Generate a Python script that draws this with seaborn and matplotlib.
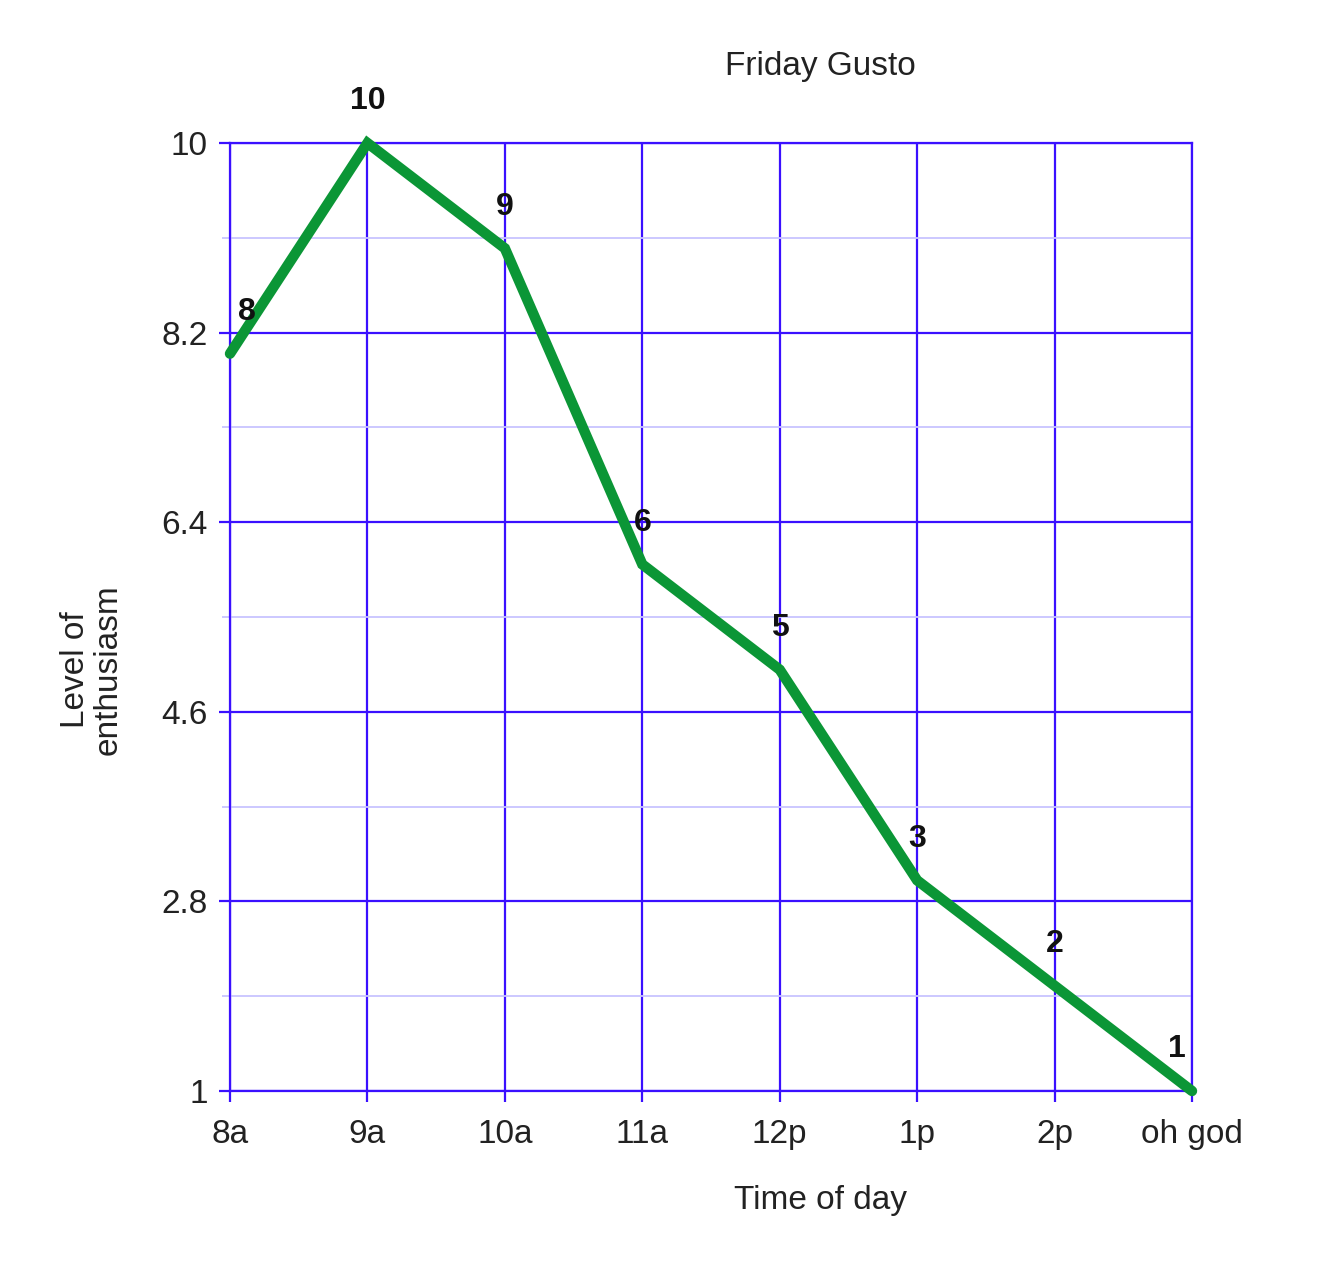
import pandas as pd
import seaborn as sns
import matplotlib.pyplot as plt

times = ["8a", "9a", "10a", "11a", "12p", "1p", "2p", "oh god"]
enthusiasm = [8, 10, 9, 6, 5, 3, 2, 1]
yticks = [1, 2.8, 4.6, 6.4, 8.2, 10]
yticks_minor = [1.9, 3.7, 5.5, 7.3, 9.1]

grid_blue = "#3a10ff"
minor_blue = "#c8c4ff"
green = "#0b9636"

df = pd.DataFrame({"Time": times, "Level": enthusiasm})

sns.set_style("white")
plt.rcParams["font.family"] = ["Liberation Sans", "DejaVu Sans"]

fig = plt.figure(figsize=(13.42, 12.62), dpi=100)
ax = fig.add_axes([230 / 1342, 1 - 1091 / 1262, 962 / 1342, 948 / 1262])

sns.lineplot(data=df, x="Time", y="Level", sort=False, color=green,
             linewidth=7.5, ax=ax, zorder=5, clip_on=False,
             solid_capstyle="round", solid_joinstyle="miter")

ax.set_xlim(0, len(times) - 1)
ax.set_ylim(1, 10)
ax.set_yticks(yticks)
ax.set_yticklabels(["1", "2.8", "4.6", "6.4", "8.2", "10"])
ax.set_yticks(yticks_minor, minor=True)
ax.set_xticks(range(len(times)))
ax.set_xticklabels(times)

ax.grid(True, which="major", color=grid_blue, linewidth=1.6)
ax.grid(True, which="minor", axis="y", color=minor_blue, linewidth=1.3)
ax.set_axisbelow(True)
ax.tick_params(which="major", length=8, width=1.6, color=grid_blue,
               labelsize=24, labelcolor="#222222", pad=8, left=True, bottom=True)
ax.tick_params(which="minor", axis="y", length=6, width=1.3, color=minor_blue, left=True)
ax.tick_params(axis="x", pad=12)
for s in ax.spines.values():
    s.set_color(grid_blue)
    s.set_linewidth(1.6)

ax.set_xlabel("")
ax.set_ylabel("")

# point labels
for i, v in enumerate(enthusiasm):
    dx = 0
    if i == 0:
        dx = 0.12
    elif i == len(times) - 1:
        dx = -0.11
    ax.annotate(str(v), (i + dx, v), xytext=(0, 30), textcoords="offset points",
                ha="center", va="center", fontsize=23, fontweight="bold",
                color="#111111", annotation_clip=False, zorder=6)

fig.text(820 / 1342, 1 - 67 / 1262, "Friday Gusto", ha="center", va="center",
         fontsize=24, color="#222222")
fig.text(820 / 1342, 1 - 1200 / 1262, "Time of day", ha="center", va="center",
         fontsize=24, color="#222222")
fig.text(92 / 1342, 1 - 670 / 1262, "Level of\nenthusiasm", ha="center", va="center",
         rotation=90, fontsize=24, color="#222222", linespacing=1.05)

fig.savefig("out.png", dpi=100)
